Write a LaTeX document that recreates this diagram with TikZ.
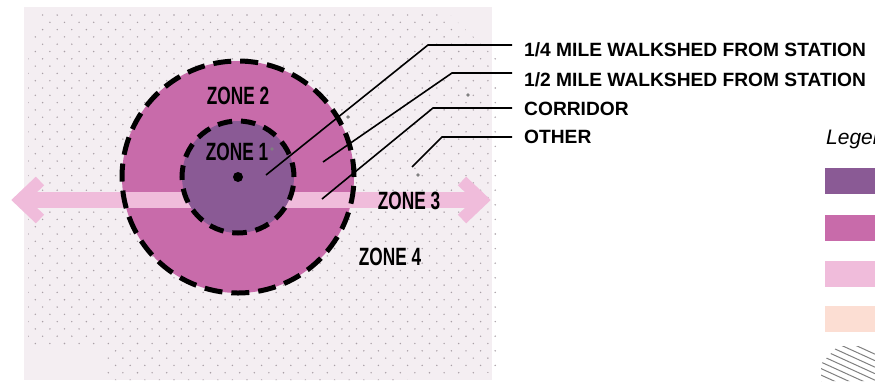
\documentclass[tikz,border=0pt]{standalone}
\usepackage{fontspec}
\setmainfont{Liberation Sans}
\usepackage{tikz}
\definecolor{panel}{HTML}{F4EEF2}
\definecolor{dotgray}{HTML}{A99FA6}
\definecolor{zoneone}{HTML}{8A5A95}
\definecolor{zonetwo}{HTML}{C86BAA}
\definecolor{corridor}{HTML}{F0BCDB}
\definecolor{peach}{HTML}{FCDED3}
\newcommand{\zonetext}[1]{\scalebox{0.69}[1]{\fontsize{25}{25}\selectfont\bfseries #1}}

\begin{document}
\begin{tikzpicture}[x=1pt,y=-1pt,
  zonelabel/.style={inner sep=0pt},
  keylabel/.style={anchor=west,inner xsep=12pt,inner ysep=0pt,font=\fontsize{19.2}{19.2}\selectfont\bfseries},
  leader/.style={line width=1.6pt,line join=miter},
  ring/.style={line width=5pt}]
\clip (0,0) rectangle (875,381);
\fill[white] (0,0) rectangle (875,381);
\fill[panel] (24,7) rectangle (492,380);
\begin{scope}
\clip (40,11) -- (446,11) -- (498,60) -- (498,372) -- (400,380) -- (105,380) -- (105,345) -- (28,345) -- (28,58) -- cycle;
\foreach \j in {0,...,50}{
  \pgfmathsetmacro{\yy}{15+7.3*\j}
  \pgfmathsetmacro{\xo}{mod(\j,2)*7.3}
  \foreach \i in {0,...,33}
    \fill[dotgray] (28+\xo+14.6*\i,\yy) circle[radius=0.8pt];
}
\end{scope}
\coordinate (station) at (238,177);
\fill[zonetwo] (station) circle[radius=116pt];
\fill[corridor] (24,192) rectangle (476,208);
\draw[corridor,line width=12pt,line join=miter] (40,181) -- (20,200) -- (40,219);
\draw[corridor,line width=12pt,line join=miter] (462,181) -- (482,200) -- (462,219);
\fill[zoneone] (station) circle[radius=56pt];
\draw[ring,dash pattern=on 18pt off 9pt] (station) circle[radius=116pt];
\draw[ring,dash pattern=on 14.6pt off 8.86pt] (station) circle[radius=56pt];
\fill (station) circle[radius=5pt];
\foreach \p in {(348,117),(468,95),(418,175),(272,149)}
  \fill[gray] \p circle[radius=1.8pt];
\node[zonelabel] (z2) at (238,96) {\zonetext{ZONE 2}};
\node[zonelabel] (z1) at (237,152) {\zonetext{ZONE 1}};
\node[zonelabel] (z3) at (409,201) {\zonetext{ZONE 3}};
\node[zonelabel] (z4) at (390,257) {\zonetext{ZONE 4}};
\node[keylabel] (quarter) at (512,50) {1/4 MILE WALKSHED FROM STATION};
\node[keylabel] (half) at (512,79.5) {1/2 MILE WALKSHED FROM STATION};
\node[keylabel] (corr) at (512,108.5) {CORRIDOR};
\node[keylabel] (other) at (512,136.5) {OTHER};
\coordinate (p1) at (266,175); \coordinate (b1) at (428,45);
\coordinate (p2) at (323,162); \coordinate (b2) at (452,73);
\coordinate (p3) at (322,199); \coordinate (b3) at (433,108);
\coordinate (p4) at (412,167); \coordinate (b4) at (442,137);
\draw[leader] (p1) -- (b1) -- (b1 -| quarter.west);
\draw[leader] (p2) -- (b2) -- (b2 -| half.west);
\draw[leader] (p3) -- (b3) -- (b3 -| corr.west);
\draw[leader] (p4) -- (b4) -- (b4 -| other.west);
\node[anchor=west,inner sep=0pt,font=\fontsize{21}{21}\selectfont\itshape] (legend) at (826,139) {Legend};
\fill[zoneone] (825,168) rectangle (890,194);
\fill[zonetwo] (825,215) rectangle (890,241);
\fill[corridor] (825,261) rectangle (890,287);
\fill[peach] (825,306) rectangle (890,332);
\begin{scope}
\clip (838,346) -- (875,346) -- (875,381) -- (821,381) -- (821,364) -- cycle;
\foreach \k in {0,...,9}
  \draw[gray,line width=1pt] (800,320+6.5*\k) -- +(90,41);
\end{scope}
\end{tikzpicture}
\end{document}
